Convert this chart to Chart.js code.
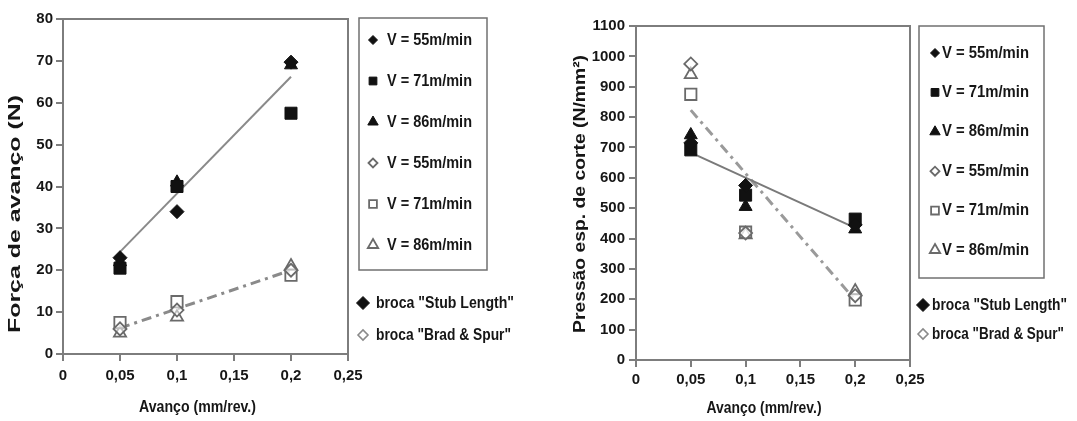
<!DOCTYPE html>
<html><head><meta charset="utf-8">
<script src="https://cdn.jsdelivr.net/npm/chart.js@4.4.0/dist/chart.umd.min.js"></script>
<style>
html,body{margin:0;padding:0;background:#fff;}
#wrap{position:relative;width:1077px;height:421px;overflow:hidden;background:#fff;}
canvas{position:absolute;top:0;}
#c1{left:0px;}
#c2{left:540px;}
</style></head><body>
<div id="wrap"><canvas id="c1" width="540" height="421"></canvas><canvas id="c2" width="537" height="421"></canvas></div>
<script>
// ---------- DATA ----------
const avanco = [0.05, 0.1, 0.2];
const trendX = [0.05, 0.2];
const xTickValues = [0, 0.05, 0.1, 0.15, 0.2, 0.25];
const xTickLabels = ['0', '0,05', '0,1', '0,15', '0,2', '0,25'];
const seriesLabels = ['V = 55m/min', 'V = 71m/min', 'V = 86m/min'];
const brocaLabels = ['broca "Stub Length"', 'broca "Brad & Spur"'];

// Força de avanço (N)
const forcaYTicks = [0, 10, 20, 30, 40, 50, 60, 70, 80];
const forcaStub55 = [23, 34, 69.7];
const forcaStub71 = [20.5, 40, 57.5];
const forcaStub86 = [22, 41, 69];
const forcaBrad55 = [6, 10.5, 20];
const forcaBrad71 = [7.5, 12.5, 18.8];
const forcaBrad86 = [5, 8.8, 21];
const forcaTrendStub = [24.4, 66.2];
const forcaTrendBrad = [6.2, 20];

// Pressão esp. de corte (N/mm²)
const pressaoYTicks = [0, 100, 200, 300, 400, 500, 600, 700, 800, 900, 1000, 1100];
const pressaoStub55 = [715, 575, 445];
const pressaoStub71 = [692, 543, 464];
const pressaoStub86 = [741, 505, 431];
const pressaoBrad55 = [975, 418, 212];
const pressaoBrad71 = [875, 421, 198];
const pressaoBrad86 = [940, 412, 227];
const pressaoTrendStub = [683, 435];
const pressaoTrendBrad = [823, 197];

// ---------- STYLE ----------
const FONT = "'Liberation Sans', Arial, sans-serif";
const AXIS = '#7d7d7d';
const TXT = '#161616';
const FILL_DARK = '#111111';
const OPEN_STROKE = '#6a6a6a';
const OPEN_FILL = 'rgba(255,255,255,0.55)';
const shapes = ['rectRot', 'rect', 'triangle'];
const radii = [7, 8.5, 7.5];
const legendRadii = [4.5, 5.5, 6];

function pts(xs, ys) { return xs.map((x, i) => ({x: x, y: ys[i]})); }

function markerSets(stub, brad) {
  const out = [];
  stub.forEach((vals, i) => out.push({
    label: seriesLabels[i], data: pts(avanco, vals), showLine: false,
    pointStyle: shapes[i], pointRadius: radii[i], legendRadius: legendRadii[i],
    backgroundColor: FILL_DARK, borderColor: FILL_DARK, borderWidth: 1, inLegend: true, order: 1
  }));
  brad.forEach((vals, i) => out.push({
    label: seriesLabels[i], data: pts(avanco, vals), showLine: false,
    pointStyle: shapes[i], pointRadius: radii[i] - 0.5, legendRadius: legendRadii[i],
    backgroundColor: OPEN_FILL, borderColor: OPEN_STROKE, borderWidth: 1.8, inLegend: true, order: 1
  }));
  return out;
}
function trendSets(stubTrend, bradTrend, colSolid, colDash) {
  return [
    {label: 'trend stub', data: pts(trendX, stubTrend), showLine: true, pointRadius: 0,
     borderColor: colSolid, borderWidth: 2, inLegend: false, order: 2},
    {label: 'trend brad', data: pts(trendX, bradTrend), showLine: true, pointRadius: 0,
     borderColor: colDash, borderWidth: 3, borderDash: [10, 5, 3, 5], inLegend: false, order: 2}
  ];
}

function drawMarker(ctx, style, r, x, y, fill, stroke, bw) {
  ctx.save();
  ctx.fillStyle = fill; ctx.strokeStyle = stroke; ctx.lineWidth = bw;
  Chart.helpers.drawPoint(ctx, {pointStyle: style, radius: r, borderWidth: bw, rotation: 0}, x, y);
  ctx.restore();
}

// text drawn condensed to a target width (the original uses a narrow face)
function drawText(ctx, text, x, y, size, targetW, align) {
  ctx.save();
  ctx.font = 'bold ' + size + 'px ' + FONT;
  ctx.fillStyle = TXT; ctx.textBaseline = 'middle'; ctx.textAlign = align || 'left';
  const w = ctx.measureText(text).width;
  ctx.translate(x, y);
  ctx.scale(targetW / w, 1);
  ctx.fillText(text, 0, 0);
  ctx.restore();
}

const decorPlugin = {
  id: 'decor',
  afterDraw(chart, args, o) {
    const ctx = chart.ctx, a = chart.chartArea;
    ctx.save();
    // frame (top & right)
    ctx.strokeStyle = AXIS; ctx.lineWidth = 2;
    ctx.beginPath(); ctx.moveTo(a.left, a.top); ctx.lineTo(a.right, a.top); ctx.lineTo(a.right, a.bottom); ctx.stroke();
    // y title (rotated)
    ctx.save();
    ctx.translate(o.yTitle.x, o.yTitle.y); ctx.rotate(-Math.PI / 2);
    drawText(ctx, o.yTitle.text, 0, 0, o.yTitle.size, o.yTitle.length, 'center');
    ctx.restore();
    // x title
    drawText(ctx, o.xTitle.text, (a.left + a.right) / 2 + o.xTitle.dx, o.xTitle.y, o.xTitle.size, o.xTitle.width, 'center');
    // legend box
    const L = o.legend;
    ctx.strokeStyle = '#707070'; ctx.lineWidth = 1.5;
    ctx.strokeRect(L.left, L.top, L.right - L.left, L.bottom - L.top);
    const items = chart.data.datasets.filter(d => d.inLegend);
    items.forEach((d, i) => {
      const y = L.firstY + i * L.step;
      drawMarker(ctx, d.pointStyle, d.legendRadius, L.markerX, y, d.backgroundColor === OPEN_FILL ? '#fff' : d.backgroundColor, d.borderColor, d.borderWidth);
      drawText(ctx, d.label, L.textX, y, L.size, L.width, 'left');
    });
    // broca entries
    const B = o.broca;
    drawMarker(ctx, 'rectRot', 6.5, B.markerX, B.y[0], FILL_DARK, FILL_DARK, 1);
    drawMarker(ctx, 'rectRot', 5, B.markerX, B.y[1], '#fff', '#8a8a8a', 1.6);
    drawText(ctx, brocaLabels[0], B.textX, B.y[0], B.size, B.widths[0], 'left');
    drawText(ctx, brocaLabels[1], B.textX, B.y[1], B.size, B.widths[1], 'left');
    ctx.restore();
  }
};

function axisOpts(values, labels, min, max, fitFn, pad) {
  return {
    type: 'linear', min: min, max: max,
    afterBuildTicks: s => { s.ticks = values.map(v => ({value: v})); },
    afterFit: fitFn,
    border: {display: true, color: AXIS, width: 2},
    grid: {display: true, drawOnChartArea: false, drawTicks: true, tickLength: 7, color: AXIS, lineWidth: 2},
    ticks: {autoSkip: false, maxRotation: 0, padding: pad, color: TXT,
      font: {family: FONT, size: 15, weight: 'bold'},
      callback: v => labels[values.indexOf(v)]}
  };
}

function makeChart(id, datasets, cfg) {
  return new Chart(document.getElementById(id), {
    type: 'scatter',
    data: {datasets: datasets},
    options: {
      responsive: false, animation: false, devicePixelRatio: 1,
      layout: {padding: cfg.padding},
      plugins: {legend: {display: false}, tooltip: {enabled: false}, decor: cfg.decor},
      elements: {line: {tension: 0}},
      scales: {
        x: axisOpts(xTickValues, xTickLabels, 0, 0.25, s => { s.height = cfg.xHeight; }, cfg.xPad),
        y: axisOpts(cfg.yTicks, cfg.yTicks.map(String), cfg.yTicks[0], cfg.yTicks[cfg.yTicks.length - 1], s => { s.width = cfg.yWidth; }, cfg.yPad)
      }
    },
    plugins: [decorPlugin]
  });
}

makeChart('c1',
  markerSets([forcaStub55, forcaStub71, forcaStub86], [forcaBrad55, forcaBrad71, forcaBrad86])
    .concat(trendSets(forcaTrendStub, forcaTrendBrad, '#8a8a8a', '#8a8a8a')),
  {
    padding: {top: 19, right: 192, bottom: 0, left: 0},
    xHeight: 67, yWidth: 63, xPad: 6, yPad: 3, yTicks: forcaYTicks,
    decor: {
      yTitle: {text: 'Força de avanço (N)', x: 15, y: 214, size: 17, length: 238},
      xTitle: {text: 'Avanço (mm/rev.)', dx: -8, y: 407, size: 17, width: 117},
      legend: {left: 359, top: 18, right: 487, bottom: 270, firstY: 40, step: 41, markerX: 373, textX: 387, size: 17, width: 85},
      broca: {markerX: 363, textX: 376, y: [303, 335], size: 17, widths: [138, 135]}
    }
  });

makeChart('c2',
  markerSets([pressaoStub55, pressaoStub71, pressaoStub86], [pressaoBrad55, pressaoBrad71, pressaoBrad86])
    .concat(trendSets(pressaoTrendStub, pressaoTrendBrad, '#7a7a7a', '#9a9a9a')),
  {
    padding: {top: 26, right: 167, bottom: 0, left: 0},
    xHeight: 61, yWidth: 96, xPad: 4, yPad: 4, yTicks: pressaoYTicks,
    decor: {
      yTitle: {text: 'Pressão esp. de corte (N/mm²)', x: 40, y: 194, size: 17, length: 278},
      xTitle: {text: 'Avanço (mm/rev.)', dx: -9, y: 408, size: 17, width: 115},
      legend: {left: 379, top: 26, right: 504, bottom: 278, firstY: 53, step: 39.4, markerX: 395, textX: 402, size: 17, width: 87},
      broca: {markerX: 383, textX: 392, y: [305, 334], size: 17, widths: [135, 132]}
    }
  });
</script>
</body></html>
